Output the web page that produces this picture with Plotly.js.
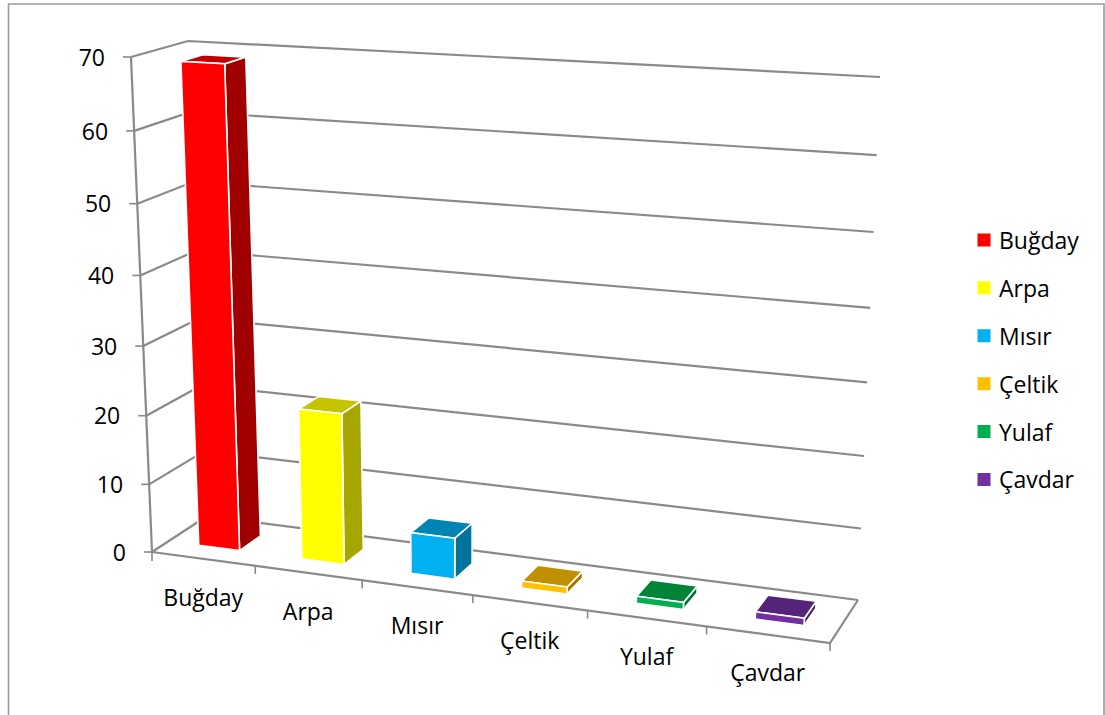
<!DOCTYPE html>
<html>
<head>
<meta charset="utf-8">
<script src="https://cdn.plot.ly/plotly-3.0.1.min.js"></script>
<style>html,body{margin:0;padding:0;background:#fff;overflow:hidden}#chart{width:1105px;height:715px}</style>
</head>
<body>
<div id="chart"></div>
<script>
// Grain production shown as perspective columns.
const categories = ["Buğday", "Arpa", "Mısır", "Çeltik", "Yulaf", "Çavdar"];
const values = [69, 21.8, 5.9, 1, 1, 1];
const valueTicks = [0, 10, 20, 30, 40, 50, 60, 70];

const frontColors = ["#FF0000", "#FFFF00", "#00B0F0", "#FFC000", "#00B050", "#7030A0"];
const topColors = ["#C00000", "#C4C400", "#0084B4", "#C09000", "#008438", "#542478"];
const sideColors = ["#A00000", "#A6A600", "#00739E", "#A57C00", "#007232", "#491F68"];

const GRID = "#8A8A8A";
const FONT = "'Open Sans', sans-serif";
const VMAX = 70;

// Corners of the plot box in page pixels: [front, back] at the bottom and top, left and right.
const box = {
  bottom: { left: [[152, 552], [207, 516]], right: [[830, 643], [858, 600]] },
  top: { left: [[131, 57], [188, 41]], right: [[863, 98], [880, 77]] }
};

// Foreshortening along an edge seen in perspective.
const warp = (t, r) => t / (t + r * (1 - t));
const mix = (a, b, t) => [a[0] + (b[0] - a[0]) * t, a[1] + (b[1] - a[1]) * t];

// Category position u (0..n), value v, depth w (0 front, 1 back) to page coordinates.
function project(u, v, w) {
  const fu = warp(u / categories.length, 1.113);
  const fv = warp(v / VMAX, 1.053);
  const lo = mix(mix(box.bottom.left[0], box.bottom.right[0], fu), mix(box.bottom.left[1], box.bottom.right[1], fu), w);
  const hi = mix(mix(box.top.left[0], box.top.right[0], fu), mix(box.top.left[1], box.top.right[1], fu), w);
  return mix(lo, hi, fv);
}

const traces = [];

function line(points, width) {
  traces.push({
    x: points.map(p => p[0]), y: points.map(p => p[1]),
    mode: "lines", line: { color: GRID, width: width || 2.2 },
    showlegend: false, hoverinfo: "skip"
  });
}

function face(points, color) {
  const ring = points.concat([points[0]]);
  traces.push({
    x: ring.map(p => p[0]), y: ring.map(p => p[1]),
    mode: "lines", fill: "toself", fillcolor: color,
    line: { color: "#FFFFFF", width: 1.6 },
    showlegend: false, hoverinfo: "skip"
  });
}

// Walls and floor
valueTicks.forEach(v => {
  line([project(0, v, 0), project(0, v, 1), project(categories.length, v, 1)]);
  const p = project(0, v, 0);
  line([[p[0] - 8, p[1]], p], 1.6);
});
line([project(0, 0, 0), project(0, VMAX, 0)]);
line([project(0, 0, 0), project(categories.length, 0, 0), project(categories.length, 0, 1)]);
categories.forEach((_, k) => {
  const p = project(k + 1, 0, 0);
  line([p, [p[0], p[1] + 8]], 1.6);
});
const origin = project(0, 0, 0);
line([origin, [origin[0], origin[1] + 9]], 1.6);

// Columns, each occupying the middle 40% of its slot in width and depth;
// slots further from the axis sit slightly to the right of centre.
const W0 = 0.3, W1 = 0.7;
categories.forEach((name, k) => {
  const drift = k >= 2 ? 0.022 : 0;
  const a = k + W0 + drift, b = k + W1 + drift, v = values[k];
  face([project(b, 0, W0), project(b, 0, W1), project(b, v, W1), project(b, v, W0)], sideColors[k]);
  face([project(a, v, W0), project(b, v, W0), project(b, v, W1), project(a, v, W1)], topColors[k]);
  face([project(a, 0, W0), project(b, 0, W0), project(b, v, W0), project(a, v, W0)], frontColors[k]);
});

// Legend entries
categories.forEach((name, k) => {
  traces.push({
    x: [null], y: [null], name: name, legendgroup: name,
    mode: "markers", marker: { symbol: "square", size: 13, color: frontColors[k] },
    hoverinfo: "skip"
  });
});

// Value labels
const valuePts = valueTicks.map(v => project(0, v, 0));
traces.push({
  x: valuePts.map(p => p[0] - 26), y: valuePts.map(p => p[1] + 3),
  mode: "text", text: valueTicks.map(String), textposition: "middle left",
  textfont: { family: FONT, size: 23, color: "#000" },
  showlegend: false, hoverinfo: "skip"
});

// Category labels
const catPts = categories.map((_, k) => project(k + 0.5, 0, 0));
traces.push({
  x: catPts.map(p => p[0]), y: catPts.map(p => p[1] + 41),
  mode: "text", text: categories, textposition: "middle center",
  textfont: { family: FONT, size: 23, color: "#000" },
  showlegend: false, hoverinfo: "skip"
});

const layout = {
  width: 1105, height: 715,
  margin: { l: 0, r: 0, t: 0, b: 0 },
  paper_bgcolor: "#fff", plot_bgcolor: "#fff",
  xaxis: { range: [0, 1105], visible: false, fixedrange: true },
  yaxis: { range: [715, 0], visible: false, fixedrange: true },
  showlegend: true,
  legend: {
    x: 964 / 1105, y: 1 - 218.5 / 715, xanchor: "left", yanchor: "top",
    font: { family: FONT, size: 23, color: "#000" },
    tracegroupgap: 15, itemwidth: 30, bgcolor: "rgba(0,0,0,0)", itemclick: false, itemdoubleclick: false
  },
  shapes: [{
    type: "path", xref: "x", yref: "y",
    path: "M 8.5 716 L 8.5 4 L 1104 4 L 1104 716",
    line: { color: "#9A9A9A", width: 1.6 }
  }]
};

Plotly.newPlot("chart", traces, layout, { displayModeBar: false, staticPlot: true }).then(() => {
  // Pull the legend text closer to its swatch.
  document.querySelectorAll(".legendtext").forEach(t => {
    t.setAttribute("x", Number(t.getAttribute("x")) - 5);
  });
});
</script>
</body>
</html>
